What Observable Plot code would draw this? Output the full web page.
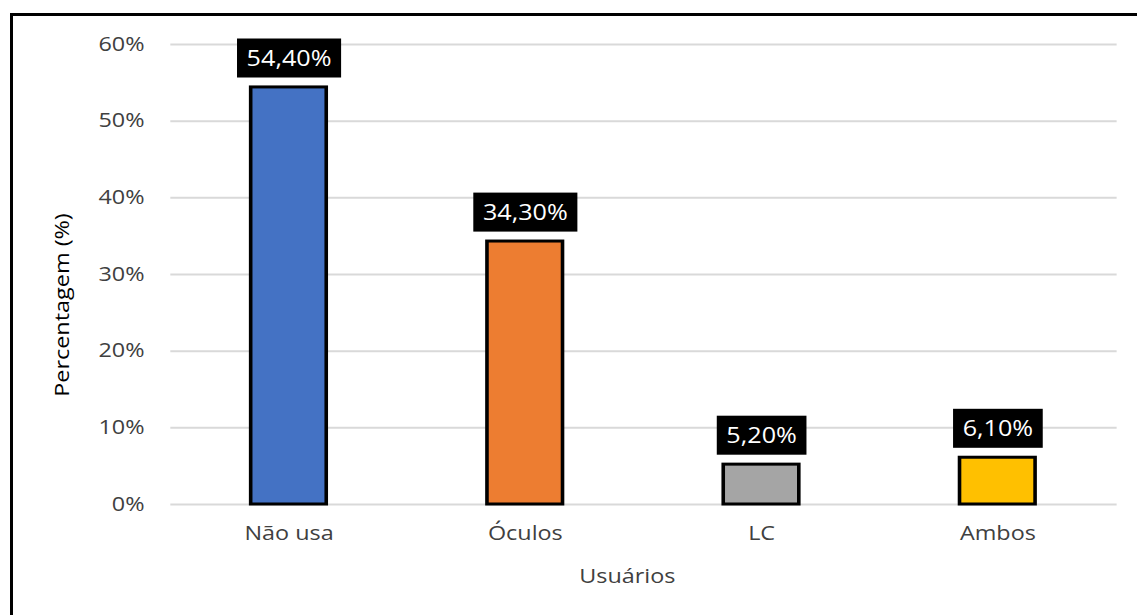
<!DOCTYPE html>
<html>
<head>
<meta charset="utf-8">
<script src="https://cdn.jsdelivr.net/npm/d3@7"></script>
<script src="https://cdn.jsdelivr.net/npm/@observablehq/plot@0.6"></script>
<style>
  body { margin: 0; background: #fff; }
  #wrap { position: relative; width: 1137px; height: 615px; overflow: hidden; }
  /* the chart is drawn narrower and widened horizontally, giving the wide lettering */
  #chart { position: absolute; left: 0; top: 0; transform: scaleX(1.1994); transform-origin: 0 0; }
  #frame { position: absolute; left: 10px; top: 13px; right: -10px; bottom: -10px;
           border-top: 3px solid #000; border-left: 3px solid #000; pointer-events: none; }
  #ytitle { position: absolute; left: 62px; top: 305px; white-space: nowrap; line-height: 1;
            font-family: 'Open Sans', sans-serif; font-size: 19.5px; color: #000;
            transform: translate(-50%, -50%) rotate(-90deg) scaleX(1.2); }
</style>
</head>
<body>
<div id="wrap"><div id="chart"></div><div id="ytitle"></div><div id="frame"></div></div>
<script>
// Tipo de correção visual usada pelos participantes
const categories = ["Não usa", "Óculos", "LC", "Ambos"];
const values = [54.4, 34.3, 5.2, 6.1];
const valueLabels = ["54,40%", "34,30%", "5,20%", "6,10%"];
const barColors = ["#4472C4", "#ED7D31", "#A5A5A5", "#FFC000"];
const yTicks = [0, 10, 20, 30, 40, 50, 60];
const xTitle = "Usuários";
const yTitle = "Percentagem (%)";

const rows = categories.map((c, i) => ({ category: c, value: values[i], label: valueLabels[i] }));

const font = "'Open Sans', sans-serif";
const textColor = "#404040";

const chart = Plot.plot({
  width: 948,
  height: 615,
  marginLeft: 142,
  marginRight: 17,
  marginTop: 44,
  marginBottom: 111,
  style: { fontFamily: font, fontSize: "19.5px", color: textColor, background: "transparent" },
  x: { domain: categories, paddingInner: 0.68, paddingOuter: 0.34, label: null },
  y: { domain: [0, 60], label: null },
  color: { domain: categories, range: barColors },
  marks: [
    Plot.gridY(yTicks, { stroke: "#d9d9d9", strokeOpacity: 1, strokeWidth: 2 }),
    Plot.axisY(yTicks, { tickSize: 0, tickPadding: 22, tickFormat: d => d + "%", fill: textColor, fontSize: 19.5 }),
    Plot.axisX({ tickSize: 0, tickPadding: 22, fill: textColor, fontSize: 19.5 }),
    Plot.barY(rows, { x: "category", y: "value", fill: "category", stroke: "#000", strokeWidth: 3 }),
    Plot.text(rows, { x: "category", y: "value", text: "label", dy: -28, fill: "#fff",
                      fontSize: 21, className: "value-label" }),
    Plot.text([xTitle], { frameAnchor: "bottom", dy: 78, dx: -14, fill: textColor, fontSize: 19.5 })
  ]
});

document.getElementById("chart").appendChild(chart);
document.getElementById("ytitle").textContent = yTitle;

// Black boxes behind the value labels
chart.querySelectorAll("g.value-label text").forEach(t => {
  const b = t.getBBox();
  const w = b.width + 16, h = 39;
  const cx = b.x + b.width / 2, cy = b.y + b.height / 2;
  const rect = document.createElementNS("http://www.w3.org/2000/svg", "rect");
  rect.setAttribute("x", cx - w / 2);
  rect.setAttribute("y", cy - h / 2);
  rect.setAttribute("width", w);
  rect.setAttribute("height", h);
  rect.setAttribute("fill", "#000");
  const tr = t.getAttribute("transform");
  if (tr) rect.setAttribute("transform", tr);
  t.parentNode.insertBefore(rect, t);
});
</script>
</body>
</html>
